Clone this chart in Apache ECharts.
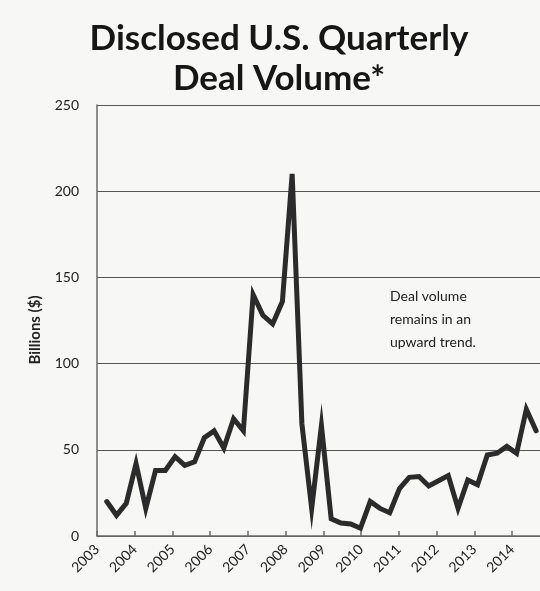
<!DOCTYPE html>
<html>
<head>
<meta charset="utf-8">
<script src="https://cdn.jsdelivr.net/npm/echarts@6/dist/echarts.min.js"></script>
<style>
html,body{margin:0;padding:0;background:#f7f7f5;}
#chart{width:540px;height:591px;}
</style>
</head>
<body>
<div id="chart"></div>
<script>
// Quarterly deal volume, billions of dollars
var quarters = [
  '2003 Q2','2003 Q3','2003 Q4','2004 Q1','2004 Q2','2004 Q3','2004 Q4','2005 Q1','2005 Q2',
  '2005 Q3','2005 Q4','2006 Q1','2006 Q2','2006 Q3','2006 Q4','2007 Q1','2007 Q2','2007 Q3',
  '2007 Q4','2008 Q1','2008 Q2','2008 Q3','2008 Q4','2009 Q1','2009 Q2','2009 Q3','2009 Q4',
  '2010 Q1','2010 Q2','2010 Q3','2010 Q4','2011 Q1','2011 Q2','2011 Q3','2011 Q4','2012 Q1',
  '2012 Q2','2012 Q3','2012 Q4','2013 Q1','2013 Q2','2013 Q3','2013 Q4','2014 Q1','2014 Q2'
];
var dealVolume = [
  20, 12, 19, 42, 16, 38, 38, 46, 41,
  43, 57, 61, 51, 68, 61, 140, 128, 123,
  136, 210, 65, 16, 64, 10, 7.5, 7, 4.5,
  20, 16, 13.5, 27.5, 34, 34.5, 29, 32, 35,
  16, 32.5, 29.7, 47, 48, 52, 48, 73.5, 61
];
var yearLabels = [2003, 2004, 2005, 2006, 2007, 2008, 2009, 2010, 2011, 2012, 2013, 2014];
var titleText = 'Disclosed U.S. Quarterly\nDeal Volume*';
var yAxisName = 'Billions ($)';
var noteText = 'Deal volume\nremains in an\nupward trend.';

var FONT = 'Lato, "Open Sans", sans-serif';
var seriesData = dealVolume.map(function (v, i) { return [i + 1, v]; });

var chart = echarts.init(document.getElementById('chart'), null, {renderer: 'canvas'});
chart.setOption({
  backgroundColor: '#f7f7f5',
  animation: false,
  title: {
    text: titleText,
    left: 274,
    textAlign: 'center',
    top: 14,
    textStyle: {
      fontFamily: FONT,
      fontWeight: 'bold',
      fontSize: 35,
      lineHeight: 40,
      color: '#161616'
    }
  },
  grid: {left: 97, top: 105, right: 0, bottom: 55, containLabel: false},
  xAxis: [
    {
      type: 'value',
      min: 0,
      max: 45.4,
      show: false
    },
    {
      type: 'value',
      min: yearLabels[0],
      max: 2014.74,
      interval: 1,
      position: 'bottom',
      axisLine: {show: true, lineStyle: {color: '#6a6a6a', width: 1.5}},
      axisTick: {show: true, inside: true, length: 5, lineStyle: {color: '#6a6a6a', width: 1.5}},
      splitLine: {show: false},
      axisLabel: {
        rotate: 45,
        margin: 11,
        fontFamily: FONT,
        fontSize: 14,
        color: '#222',
        showMaxLabel: false,
        formatter: function (v) {
          return yearLabels.indexOf(v) >= 0 ? String(v) : '';
        }
      }
    }
  ],
  yAxis: {
    type: 'value',
    min: 0,
    max: 250,
    interval: 50,
    axisLine: {show: true, lineStyle: {color: '#6a6a6a', width: 1.5}},
    axisTick: {show: false},
    axisLabel: {fontFamily: FONT, fontSize: 14, color: '#222', margin: 18},
    splitLine: {show: true, lineStyle: {color: '#555', width: 1.2}}
  },
  graphic: [{
    type: 'text',
    left: 390,
    top: 285,
    style: {
      text: noteText,
      fontFamily: FONT,
      fontSize: 14,
      lineHeight: 23,
      fill: '#222'
    }
  }, {
    type: 'text',
    x: 35,
    y: 330,
    rotation: Math.PI / 2,
    style: {
      text: yAxisName,
      fontFamily: FONT,
      fontWeight: 'bold',
      fontSize: 15,
      fill: '#222',
      align: 'center',
      verticalAlign: 'middle'
    }
  }],
  series: [{
    type: 'line',
    xAxisIndex: 0,
    data: seriesData,
    symbol: 'none',
    lineStyle: {color: '#2b2b2b', width: 5, join: 'miter', cap: 'round'}
  }]
});
</script>
</body>
</html>
